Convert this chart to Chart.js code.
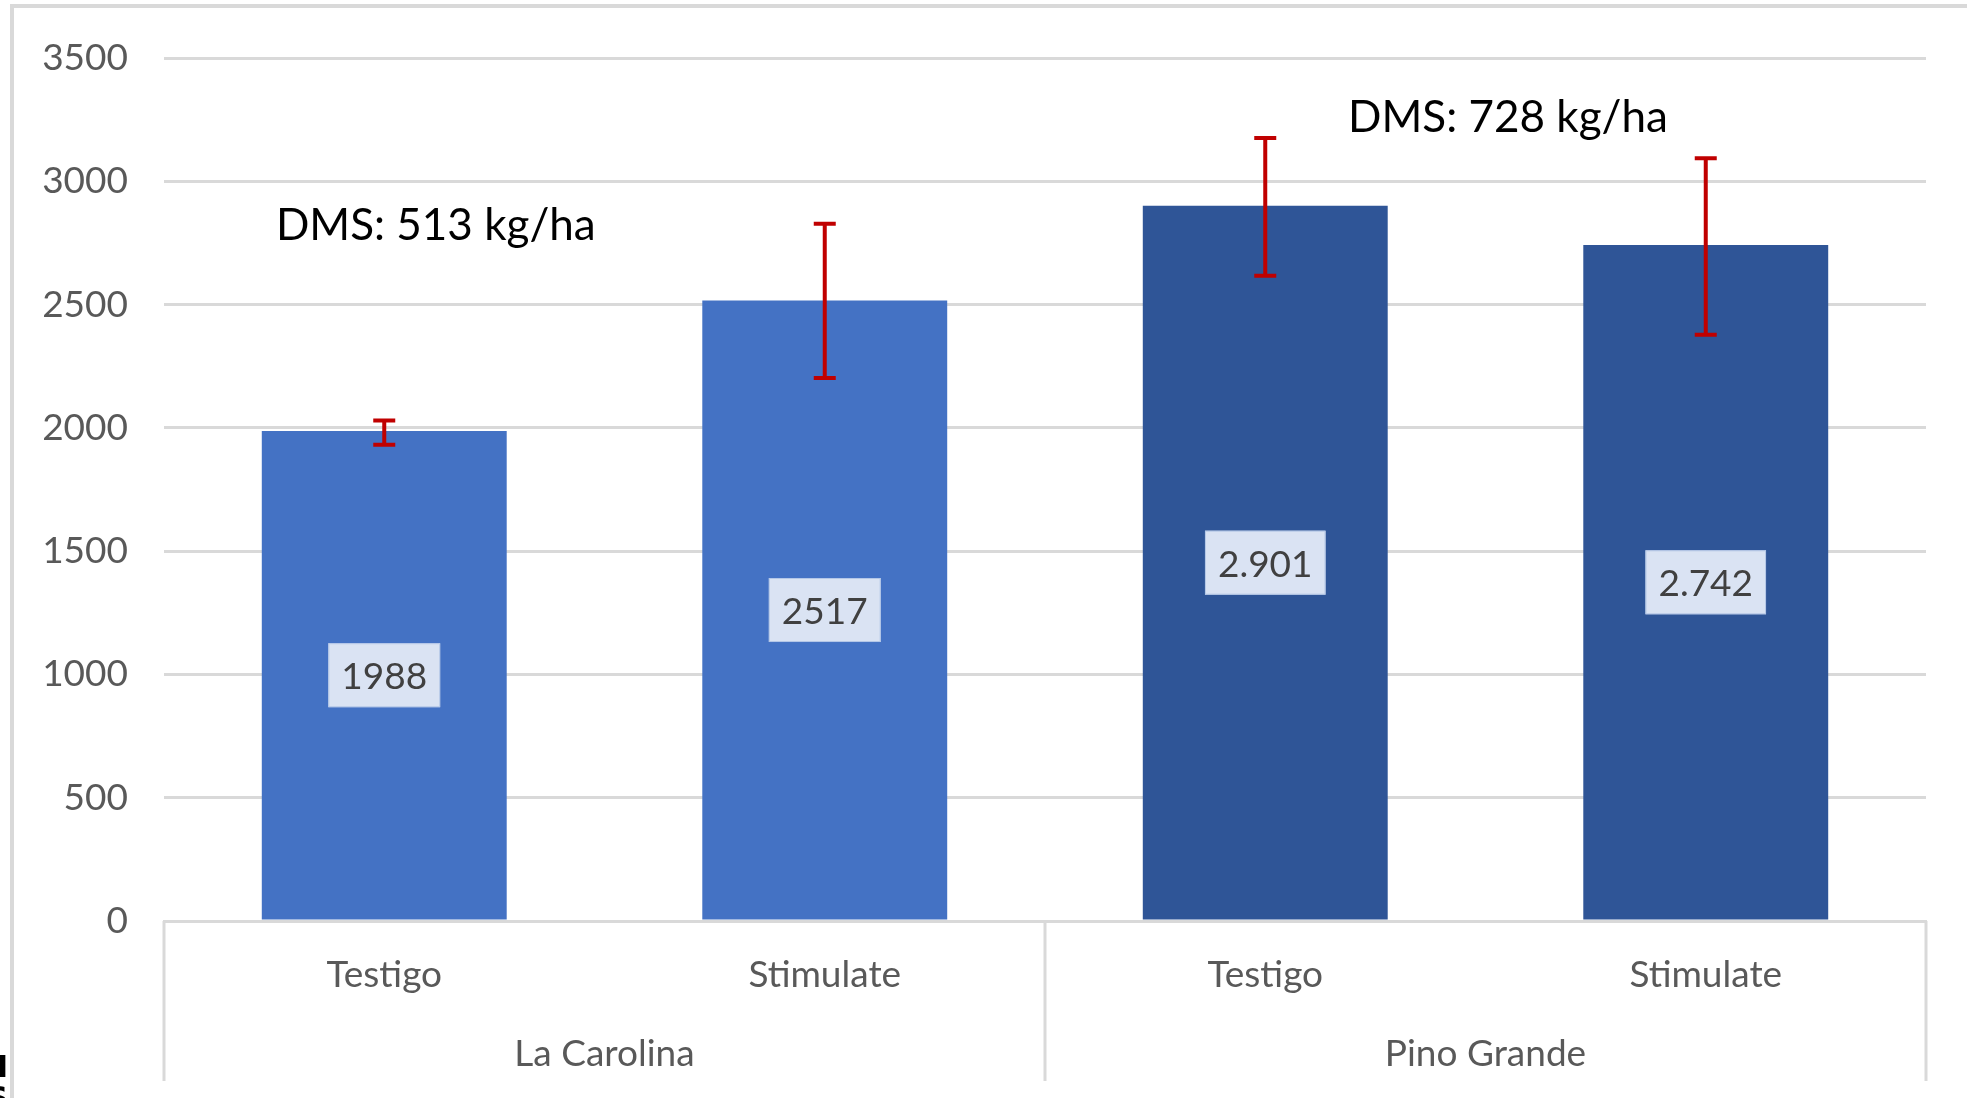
<!DOCTYPE html>
<html>
<head>
<meta charset="utf-8">
<title>Rendimiento - La Carolina / Pino Grande</title>
<script src="https://cdn.jsdelivr.net/npm/chart.js@4/dist/chart.umd.min.js"></script>
<style>
    html, body { margin: 0; padding: 0; background: #fff; }
    #wrap { width: 1967px; height: 1098px; position: relative; }
</style>
</head>
<body>
<div id="wrap"><canvas id="chart"></canvas></div>
<script>
// data
const treatments = ["Testigo", "Stimulate", "Testigo", "Stimulate"];
const sites = ["La Carolina", "Pino Grande"];
const yields = [1988, 2517, 2901, 2742];
const valueLabels = ["1988", "2517", "2.901", "2.742"];
const errLow = [1932, 2203, 2618, 2378];
const errHigh = [2030, 2828, 3176, 3094];
const yTicks = [0, 500, 1000, 1500, 2000, 2500, 3000, 3500];
const barColors = ["#4472C4", "#4472C4", "#2F5597", "#2F5597"];

// DMS notes, anchored in chart units (category index, kg/ha)
const notes = [
    { text: "DMS: 513 kg/ha", at: [0.117, 2820] },
    { text: "DMS: 728 kg/ha", at: [2.551, 3258] }
];

const FONT = "Lato, 'Open Sans', sans-serif";
const GRID = "#D9D9D9";
const TEXT = "#595959";

// frame of the original slide, cut off on the right and bottom
const framePlugin = {
    id: "frame",
    beforeDraw(chart) {
        const ctx = chart.ctx;
        ctx.save();
        ctx.strokeStyle = GRID;
        ctx.lineWidth = 4;
        ctx.beginPath();
        ctx.moveTo(12, chart.height);
        ctx.lineTo(12, 6);
        ctx.lineTo(chart.width, 6);
        ctx.stroke();
        // stray letters at the left edge of the crop
        ctx.fillStyle = "#000";
        ctx.font = "bold 30px 'DejaVu Sans'";
        ctx.textAlign = "right";
        ctx.textBaseline = "alphabetic";
        ctx.fillText("N", 8, 1077);
        ctx.fillText("S", 8, 1108);
        ctx.restore();
    }
};

const errorBarPlugin = {
    id: "errorBars",
    afterDatasetsDraw(chart) {
        const ctx = chart.ctx;
        const y = chart.scales.y;
        const meta = chart.getDatasetMeta(0);
        ctx.save();
        ctx.strokeStyle = "#C00000";
        ctx.lineWidth = 4;
        meta.data.forEach((bar, i) => {
            const top = y.getPixelForValue(errHigh[i]);
            const bot = y.getPixelForValue(errLow[i]);
            ctx.beginPath();
            ctx.moveTo(bar.x, top);
            ctx.lineTo(bar.x, bot);
            ctx.moveTo(bar.x - 11, top);
            ctx.lineTo(bar.x + 11, top);
            ctx.moveTo(bar.x - 11, bot);
            ctx.lineTo(bar.x + 11, bot);
            ctx.stroke();
        });
        ctx.restore();
    }
};

const valueLabelPlugin = {
    id: "valueLabels",
    afterDatasetsDraw(chart) {
        const ctx = chart.ctx;
        const meta = chart.getDatasetMeta(0);
        ctx.save();
        ctx.font = "37px " + FONT;
        ctx.textAlign = "center";
        ctx.textBaseline = "middle";
        meta.data.forEach((bar, i) => {
            const cy = (bar.y + bar.base) / 2;
            const w = ctx.measureText(valueLabels[i]).width + 26;
            const h = 64;
            ctx.fillStyle = "#DAE3F3";
            ctx.fillRect(bar.x - w / 2, cy - h / 2, w, h);
            ctx.strokeStyle = "#B4C7E7";
            ctx.lineWidth = 1;
            ctx.strokeRect(bar.x - w / 2 + 0.5, cy - h / 2 + 0.5, w - 1, h - 1);
            ctx.fillStyle = "#404040";
            ctx.fillText(valueLabels[i], bar.x, cy + 2);
        });
        ctx.restore();
    }
};

const groupAxisPlugin = {
    id: "groupAxis",
    afterDraw(chart) {
        const ctx = chart.ctx;
        const x = chart.scales.x;
        const area = chart.chartArea;
        const bottom = 1081;
        const cuts = [
            area.left,
            (x.getPixelForValue(1) + x.getPixelForValue(2)) / 2,
            area.right
        ];
        ctx.save();
        ctx.strokeStyle = GRID;
        ctx.lineWidth = 3;
        cuts.forEach(cx => {
            ctx.beginPath();
            ctx.moveTo(cx, area.bottom);
            ctx.lineTo(cx, bottom);
            ctx.stroke();
        });
        ctx.fillStyle = TEXT;
        ctx.font = "37px " + FONT;
        ctx.textAlign = "center";
        ctx.textBaseline = "middle";
        sites.forEach((s, i) => {
            ctx.fillText(s, (cuts[i] + cuts[i + 1]) / 2, 1054);
        });
        // DMS notes
        ctx.fillStyle = "#000";
        ctx.font = "44px " + FONT;
        notes.forEach(n => {
            ctx.fillText(n.text, x.getPixelForValue(n.at[0]), chart.scales.y.getPixelForValue(n.at[1]));
        });
        ctx.restore();
    }
};

new Chart(document.getElementById("chart"), {
    type: "bar",
    data: {
        labels: treatments,
        datasets: [{
            data: yields,
            backgroundColor: barColors,
            borderWidth: 0,
            barPercentage: 0.556,
            categoryPercentage: 1
        }]
    },
    options: {
        responsive: true,
        maintainAspectRatio: false,
        animation: false,
        layout: { padding: { top: 51, right: 41, bottom: 0, left: 0 } },
        plugins: {
            legend: { display: false },
            tooltip: { enabled: false }
        },
        scales: {
            x: {
                grid: { display: false, drawTicks: false },
                border: { display: true, color: GRID, width: 3 },
                ticks: {
                    color: TEXT,
                    font: { family: FONT, size: 37 },
                    padding: 32,
                    maxRotation: 0
                },
                afterFit: s => { s.height = 177; }
            },
            y: {
                min: 0,
                max: 3500,
                afterBuildTicks: s => { s.ticks = yTicks.map(v => ({ value: v })); },
                grid: { color: GRID, lineWidth: 3, drawTicks: false },
                border: { display: false },
                ticks: {
                    color: TEXT,
                    font: { family: FONT, size: 37 },
                    padding: 36,
                    callback: v => String(v)
                },
                afterFit: s => { s.width = 164; }
            }
        }
    },
    plugins: [framePlugin, errorBarPlugin, valueLabelPlugin, groupAxisPlugin]
});
</script>
</body>
</html>
